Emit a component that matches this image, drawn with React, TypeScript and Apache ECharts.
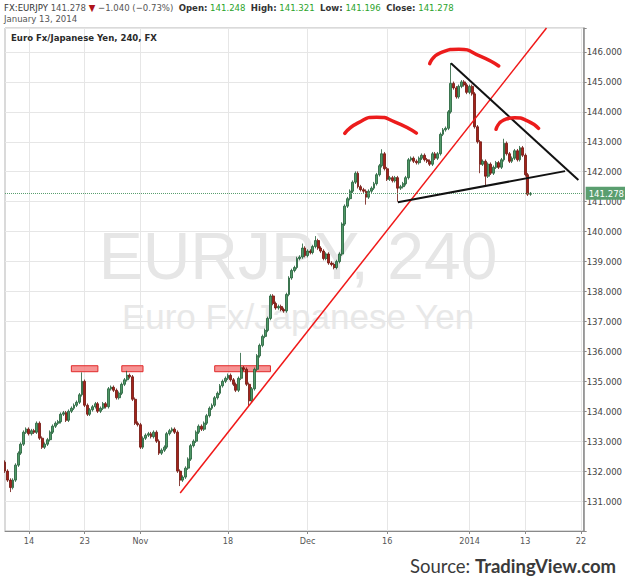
import React, { useEffect, useRef } from "react";
import * as echarts from "echarts";

// ---- trading sessions (one entry per trading day); half sessions have 2 bars, others 3 ----
const sessions: string[] = [
  "2013-10-09", "2013-10-10", "2013-10-11",
  "2013-10-14", "2013-10-15", "2013-10-16", "2013-10-17", "2013-10-18",
  "2013-10-21", "2013-10-22", "2013-10-23", "2013-10-24", "2013-10-25",
  "2013-10-28", "2013-10-29", "2013-10-30", "2013-10-31", "2013-11-01",
  "2013-11-04", "2013-11-05", "2013-11-06", "2013-11-07", "2013-11-08",
  "2013-11-11", "2013-11-12", "2013-11-13", "2013-11-14", "2013-11-15",
  "2013-11-18", "2013-11-19", "2013-11-20", "2013-11-21", "2013-11-22",
  "2013-11-25", "2013-11-26", "2013-11-27", "2013-11-28", "2013-11-29",
  "2013-12-02", "2013-12-03", "2013-12-04", "2013-12-05", "2013-12-06",
  "2013-12-09", "2013-12-10", "2013-12-11", "2013-12-12", "2013-12-13",
  "2013-12-16", "2013-12-17", "2013-12-18", "2013-12-19", "2013-12-20",
  "2013-12-23", "2013-12-24", "2013-12-26", "2013-12-27", "2013-12-30", "2013-12-31",
  "2014-01-02", "2014-01-03", "2014-01-06", "2014-01-07", "2014-01-08", "2014-01-09", "2014-01-10",
  "2014-01-13", "2014-01-14", "2014-01-15", "2014-01-16", "2014-01-17",
  "2014-01-20", "2014-01-21", "2014-01-22",
];
const halfSessions: string[] = ["2013-12-24", "2013-12-31", "2014-01-22"];
const barHours: string[] = ["00:00", "08:00", "16:00"];

// ---- x-axis tick labels ----
const tickDates: string[] = ["2013-10-14", "2013-10-23", "2013-11-01", "2013-11-18", "2013-12-02", "2013-12-16", "2014-01-02", "2014-01-13", "2014-01-22"];
const tickTexts: string[] = ["14", "23", "Nov", "18", "Dec", "16", "2014", "13", "22"];

// ---- prices (EUR/JPY) ----
const firstOpen = 132.3;
const closes: number[] = [
  132.0, 131.7, 131.45, 131.7, 132.2, 132.6, 132.9, 133.3, 133.4,
  133.25, 133.35, 133.3, 133.6, 133.1, 132.8, 132.9, 133.05, 133.3,
  133.5, 133.6, 133.65, 133.9, 133.95, 133.7,
  134.0, 134.1, 134.2, 134.3, 134.55, 135.0, 134.2, 133.9, 134.05,
  134.15, 134.25, 134.0, 134.1, 134.25, 134.15,
  134.75, 134.8, 134.7, 134.45, 134.6, 134.9, 135.05, 135.2, 135.15,
  134.4, 133.6, 133.55, 132.8, 133.1, 133.2,
  133.25, 133.15, 133.3, 133.0, 132.6, 132.7, 132.8, 133.25, 133.35,
  133.4, 133.3, 132.0, 131.7, 131.8, 132.1,
  132.4, 132.85, 133.0, 133.3, 133.5, 133.4, 133.6, 133.85, 134.1,
  134.2, 134.45, 134.6, 134.85, 135.0, 135.1,
  135.2, 135.05, 134.9, 134.7, 135.1, 135.45, 135.4, 134.9, 134.35,
  134.75, 135.4, 135.85, 136.2, 136.5, 136.7,
  137.1, 137.85, 137.6, 137.45, 137.5, 137.4, 137.35, 137.9, 138.45,
  138.7, 138.8, 139.1, 139.15, 139.45, 139.2,
  139.35, 139.3, 139.5, 139.7, 139.45, 139.35, 139.1, 139.25, 138.95,
  138.9, 138.8, 139.0, 139.25, 140.25, 140.85,
  141.1, 141.35, 141.65, 141.95, 141.5, 141.4, 141.35, 141.15, 141.35,
  141.45, 141.6, 141.9, 142.2, 142.6, 142.1,
  141.75, 141.8, 141.7, 141.8, 141.45, 141.5, 141.6, 141.8, 142.4,
  142.45, 142.35, 142.3, 142.45, 142.55, 142.4,
  142.35, 142.25, 142.6, 142.45, 142.6,
  143.25, 143.4, 143.45, 144.0, 144.95, 144.8, 144.5, 144.85, 145.0, 144.9, 144.65,
  144.85, 144.6, 143.5, 143.0, 142.25, 142.35,
  141.85, 142.25, 141.95, 142.15, 142.3, 142.15, 142.4, 142.95, 142.6,
  142.35, 142.45, 142.7, 142.4, 142.8, 142.55,
  141.9, 141.248, 141.278,
];
// notable wick extremes [bar index, price]
const wickHighs: [number, number][] = [[29, 135.3], [46, 135.35], [89, 135.95], [112, 139.6], [117, 139.85], [142, 142.75], [168, 145.63], [188, 143.1], [198, 141.321]];
const wickLows: [number, number][] = [[2, 131.3], [66, 131.5], [92, 134.15], [136, 140.9], [148, 141.0], [179, 141.95], [181, 141.55], [198, 141.196]];
const lastPrice = 141.278;

// ---- drawn annotations (bar index, price) ----
const redTrend: [number, number][] = [[66, 131.27], [204, 146.8]];
const upperTrend: [number, number][] = [[168, 145.62], [216, 141.72]];
const lowerTrend: [number, number][] = [[148, 140.98], [211, 142.02]];
const zones: [number, number, number, number][] = [[25, 35, 135.32, 135.52], [44, 52, 135.32, 135.52], [79, 100, 135.32, 135.52]];
const leftShoulder: [number, number][] = [[128, 143.28], [133, 143.63], [140, 143.82], [147, 143.66], [155, 143.29]];
const headArc: [number, number][] = [[160, 145.61], [164, 145.97], [171, 146.09], [179, 145.86], [186, 145.53]];
const rightShoulder: [number, number][] = [[185, 143.42], [188, 143.73], [192, 143.8], [197, 143.69], [201, 143.45]];

const NARROW = "'Liberation Sans Narrow', 'DejaVu Sans Condensed', 'Liberation Sans', Arial, sans-serif";
const SANS = "'Liberation Sans', Arial, sans-serif";

export default function App() {
  const ref = useRef<HTMLDivElement>(null);
  useEffect(() => {
    if (!ref.current) return;
    const chart = echarts.init(ref.current, undefined, { renderer: "svg" });

    const cats: string[] = [];
    sessions.forEach((d) => {
      const n = halfSessions.includes(d) ? 2 : 3;
      for (let k = 0; k < n; k++) cats.push(`${d} ${barHours[k]}`);
    });
    const tickMap = new Map<string, string>();
    tickDates.forEach((d, i) => tickMap.set(`${d} ${barHours[0]}`, tickTexts[i]));
    const isTick = (_i: number, v: string) => tickMap.has(v);

    const wickPad = 0.06;
    let prev = firstOpen;
    const candles = closes.map((c, i) => {
      const o = prev;
      prev = c;
      let hi = Math.max(o, c) + wickPad;
      let lo = Math.min(o, c) - wickPad;
      const h = wickHighs.find((w) => w[0] === i);
      const l = wickLows.find((w) => w[0] === i);
      if (h) hi = h[1];
      if (l) lo = l[1];
      return [o, c, lo, hi];
    });

    const pt = (p: [number, number]) => [cats[p[0]], p[1]];
    const seg = (a: [number, number][], color: string, width: number) => [
      { coord: pt(a[0]), lineStyle: { color, width, type: "solid" }, label: { show: false } },
      { coord: pt(a[1]) },
    ];
    const arcSeries = (d: [number, number][]) => ({
      type: "line",
      data: d.map(pt),
      smooth: 0.6,
      symbol: "none",
      silent: true,
      z: 5,
      lineStyle: { color: "#ec1c1c", width: 3.5, cap: "round" },
    });

    chart.setOption({
      animation: false,
      backgroundColor: "#ffffff",
      grid: { left: 5, right: 36, top: 28, bottom: 46, show: true, borderColor: "#b5b5b5", borderWidth: 1 },
      xAxis: {
        type: "category",
        data: cats,
        boundaryGap: false,
        axisLine: { lineStyle: { color: "#8a8a8a" } },
        axisTick: { show: true, interval: isTick, length: 3, lineStyle: { color: "#8a8a8a" } },
        axisLabel: {
          interval: isTick,
          formatter: (v: string) => tickMap.get(v) || "",
          color: "#555",
          fontSize: 9,
          fontFamily: NARROW,
          margin: 5,
          hideOverlap: false,
        },
        splitLine: { show: true, interval: isTick, lineStyle: { color: "#e6e6e6" } },
      },
      yAxis: {
        type: "value",
        position: "right",
        scale: true,
        min: 130,
        max: 146.8,
        interval: 1,
        axisLine: { show: true, lineStyle: { color: "#8a8a8a", width: 1.5 } },
        axisTick: { show: true, length: 3, lineStyle: { color: "#8a8a8a" } },
        axisLabel: {
          formatter: (v: number) => (v < 130.5 || v > 146.5 ? "" : v.toFixed(3)),
          color: "#444",
          fontSize: 9.5,
          fontFamily: NARROW,
          margin: 3,
        },
        splitLine: { show: true, lineStyle: { color: "#e6e6e6" } },
      },
      graphic: [
        {
          type: "text",
          style: { text: "EURJPY, 240", x: 298, y: 256, align: "center", verticalAlign: "middle", fill: "#e6e6e6", font: `66px ${SANS}` },
          z: 0,
          silent: true,
        },
        {
          type: "text",
          style: { text: "Euro Fx/Japanese Yen", x: 298, y: 316, align: "center", verticalAlign: "middle", fill: "#e8e8e8", font: `35px ${SANS}` },
          z: 0,
          silent: true,
        },
        {
          type: "text",
          style: {
            x: 4,
            y: 7,
            verticalAlign: "middle",
            text:
              "{s|FX:EURJPY} {g|141.278} {r|▼} {g|−1.040 (−0.73%)}  {k|Open:} {v|141.248}  {k|High:} {v|141.321}  {k|Low:} {v|141.196}  {k|Close:} {v|141.278}",
            font: `9.5px ${NARROW}`,
            rich: {
              s: { fill: "#333", fontSize: 9.5, fontFamily: NARROW },
              g: { fill: "#555", fontSize: 9.5, fontFamily: NARROW },
              r: { fill: "#b0141a", fontSize: 9.5, fontFamily: NARROW },
              k: { fill: "#333", fontSize: 9.5, fontFamily: NARROW, fontWeight: "bold" },
              v: { fill: "#2ba32b", fontSize: 9.5, fontFamily: NARROW },
            },
          },
          z: 10,
        },
        {
          type: "text",
          style: { x: 4, y: 18, verticalAlign: "middle", text: "January 13, 2014", fill: "#555", font: `9.5px ${NARROW}` },
          z: 10,
        },
        {
          type: "text",
          style: { x: 11, y: 37, verticalAlign: "middle", text: "Euro Fx/Japanese Yen, 240, FX", fill: "#2a2a2a", font: `bold 9.5px ${NARROW}` },
          z: 10,
        },
        {
          type: "text",
          style: {
            x: 616,
            y: 566,
            align: "right",
            verticalAlign: "middle",
            text: "{a|Source: }{b|TradingView.com}",
            rich: {
              a: { fill: "#3a3a3a", fontSize: 18.5, fontFamily: "Lato, sans-serif" },
              b: { fill: "#3a3a3a", fontSize: 18.5, fontFamily: "Lato, sans-serif", fontWeight: "bold" },
            },
          },
          z: 10,
        },
      ],
      series: [
        {
          type: "candlestick",
          data: candles,
          barWidth: 2.4,
          z: 3,
          itemStyle: {
            color: "#4f9867",
            color0: "#a3231a",
            borderColor: "#1f5d36",
            borderColor0: "#6e110b",
            borderWidth: 0.8,
          },
          markLine: {
            silent: true,
            symbol: "none",
            animation: false,
            data: [
              {
                yAxis: lastPrice,
                lineStyle: { color: "#5a9e6f", type: "dotted", width: 1 },
                label: {
                  show: true,
                  position: "end",
                  formatter: lastPrice.toFixed(3),
                  color: "#fff",
                  backgroundColor: "#5a9e6f",
                  fontSize: 9.5,
                  fontFamily: NARROW,
                  padding: [2, 3, 1, 3],
                  distance: 2,
                },
              },
              seg(redTrend, "#f01818", 1.5),
              seg(upperTrend, "#111111", 2),
              seg(lowerTrend, "#111111", 2),
            ],
          },
          markArea: {
            silent: true,
            itemStyle: { color: "rgba(244,120,120,0.8)", borderColor: "#e02a2a", borderWidth: 1 },
            data: zones.map((z) => [
              { xAxis: cats[z[0]], yAxis: z[2] },
              { xAxis: cats[z[1]], yAxis: z[3] },
            ]),
          },
        },
        arcSeries(leftShoulder),
        arcSeries(headArc),
        arcSeries(rightShoulder),
      ],
    });
    return () => chart.dispose();
  }, []);
  return <div ref={ref} style={{ position: "fixed", left: 0, top: 0, width: 625, height: 577 }} />;
}
